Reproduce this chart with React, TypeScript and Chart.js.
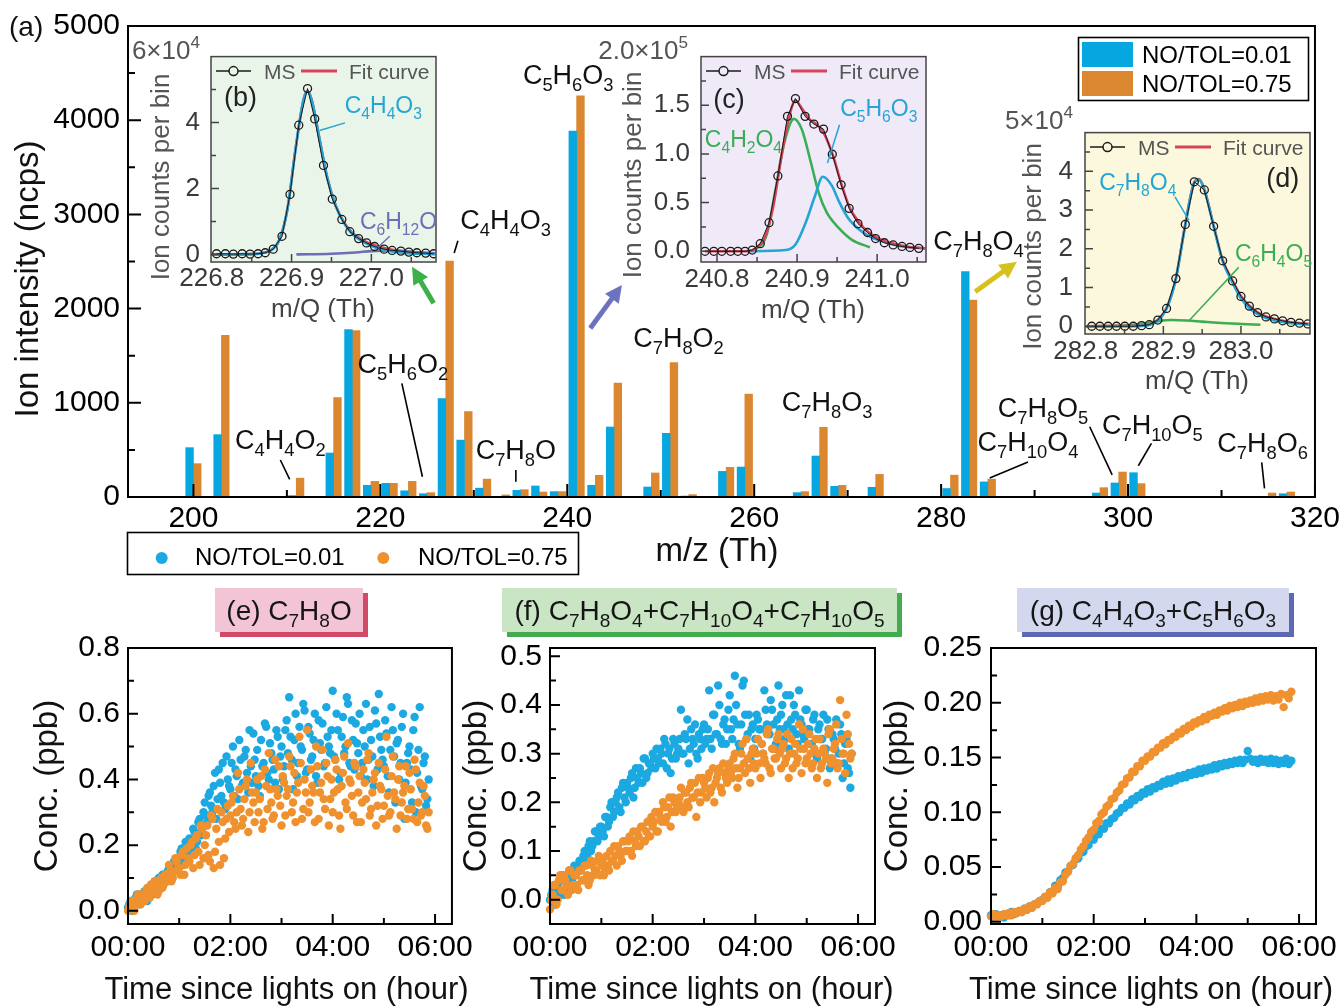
import React, { useEffect, useRef } from 'react';
import { Chart, registerables } from 'chart.js';

Chart.register(...registerables);

const FONT = "'Liberation Sans', Arial, Helvetica, sans-serif";

/* ================= (a) mass spectrum ================= */
const MZ = [200, 203, 211, 215, 217, 219, 221, 223, 225, 227, 229, 231, 233, 235, 237, 239, 241, 243, 245, 249, 251, 253, 257, 259, 265, 267, 269, 273, 281, 283, 285, 297, 299, 301, 315, 317];
const INT_LOW = [524, 662, 15, 467, 1778, 124, 145, 66, 35, 1044, 604, 94, 0, 71, 117, 57, 3885, 124, 743, 106, 676, 10, 272, 318, 46, 435, 113, 103, 90, 2392, 160, 42, 149, 258, 0, 35];
const INT_HIGH = [354, 1716, 200, 1055, 1766, 166, 145, 166, 46, 2505, 908, 190, 22, 78, 53, 57, 4260, 230, 1210, 255, 1426, 25, 315, 1093, 57, 740, 124, 240, 232, 2091, 190, 99, 265, 142, 42, 53];
const MZ_TICKS = [200, 220, 240, 260, 280, 300, 320];
const MZ_MINOR = [210, 230, 250, 270, 290, 310];
const INT_TICKS = [0, 1000, 2000, 3000, 4000, 5000];
const INT_MINOR = [500, 1500, 2500, 3500, 4500];

const PEAK_NAMES = ['C4H4O2', 'C5H6O2', 'C4H4O3', 'C7H8O', 'C5H6O3', 'C7H8O2', 'C7H8O3', 'C7H8O4', 'C7H10O4', 'C7H8O5', 'C7H10O5', 'C7H8O6'];
const PEAK_NAME_MZ = [209.3, 222.4, 233.4, 234.5, 240.1, 251.9, 267.8, 284.0, 289.3, 290.9, 302.6, 314.4];
const PEAK_NAME_INT = [615, 1420, 2950, 510, 4490, 1700, 1020, 2730, 590, 950, 775, 585];
const LEADERS: number[][] = [
  [209.3, 393, 210.3, 188],
  [222.3, 1207, 224.5, 215],
  [228.3, 2721, 227.9, 2590],
  [234.5, 287, 234.5, 162],
  [289.3, 372, 285.2, 202],
  [295.9, 746, 298.3, 234],
  [302.5, 570, 301.1, 332],
  [314.3, 368, 314.6, 92],
];
const ARROWS: [number, number, number, number, string][] = [
  [225.7, 2056, 223.39, 2445, '#3DB04A'],
  [242.46, 1791, 245.85, 2251, '#6B73C1'],
  [283.64, 2179, 288.1, 2498, '#D6C21C'],
];

/* ================= (b) inset ================= */
const B_MS_X = [226.806, 226.817, 226.827, 226.838, 226.848, 226.858, 226.867, 226.877, 226.888, 226.898, 226.909, 226.92, 226.929, 226.94, 226.951, 226.963, 226.973, 226.984, 226.994, 227.004, 227.016, 227.026, 227.037, 227.047, 227.057, 227.068, 227.078];
const B_MS_Y = [0.02, 0.02, 0.01, 0.02, 0.01, 0.02, 0.05, 0.16, 0.55, 1.82, 3.92, 5.03, 4.11, 2.7, 1.68, 1.06, 0.69, 0.48, 0.35, 0.24, 0.16, 0.12, 0.1, 0.07, 0.05, 0.04, 0.02];
const B_FIT_X = [226.8, 226.85, 226.865, 226.875, 226.885, 226.895, 226.905, 226.915, 226.92, 226.925, 226.935, 226.945, 226.955, 226.965, 226.975, 226.99, 227.005, 227.02, 227.035, 227.05, 227.065, 227.08];
const B_FIT_Y = [0.0, 0.01, 0.05, 0.14, 0.45, 1.4, 3.2, 4.7, 4.95, 4.7, 3.5, 2.3, 1.5, 1.0, 0.68, 0.42, 0.27, 0.17, 0.11, 0.07, 0.05, 0.03];
const B_C4H4O3_Y = [0.0, 0.01, 0.05, 0.14, 0.45, 1.4, 3.2, 4.7, 4.95, 4.7, 3.5, 2.3, 1.49, 0.98, 0.65, 0.38, 0.21, 0.11, 0.06, 0.03, 0.02, 0.01];
const B_C6H12O_X = [226.906, 226.95, 226.98, 227.0, 227.02, 227.04, 227.06, 227.08];
const B_C6H12O_Y = [0.0, 0.02, 0.06, 0.1, 0.12, 0.1, 0.06, 0.02];

/* ================= (c) inset ================= */
const C_MS_X = [240.785, 240.796, 240.806, 240.817, 240.826, 240.835, 240.844, 240.854, 240.865, 240.876, 240.888, 240.898, 240.91, 240.921, 240.933, 240.944, 240.955, 240.965, 240.976, 240.988, 240.998, 241.009, 241.02, 241.031, 241.041, 241.052];
const C_MS_Y = [0.0, 0.0, 0.0, 0.0, 0.0, 0.0, 0.013, 0.078, 0.294, 0.774, 1.386, 1.569, 1.386, 1.307, 1.255, 0.997, 0.683, 0.441, 0.284, 0.193, 0.131, 0.088, 0.065, 0.05, 0.04, 0.03];
const C_FIT_X = [240.785, 240.835, 240.85, 240.86, 240.87, 240.88, 240.89, 240.898, 240.905, 240.915, 240.925, 240.933, 240.945, 240.955, 240.965, 240.978, 240.99, 241.005, 241.02, 241.04, 241.06];
const C_FIT_Y = [0.0, 0.0, 0.04, 0.15, 0.45, 0.95, 1.38, 1.55, 1.48, 1.36, 1.3, 1.22, 0.98, 0.7, 0.46, 0.29, 0.19, 0.12, 0.08, 0.045, 0.03];
const C_C4H2O4_X = [240.845, 240.862, 240.873, 240.883, 240.896, 240.906, 240.917, 240.927, 240.937, 240.952, 240.968, 240.991];
const C_C4H2O4_Y = [0.0, 0.17, 0.63, 1.08, 1.36, 1.25, 0.92, 0.6, 0.4, 0.24, 0.12, 0.04];
const C_C5H6O3_X = [240.838, 240.886, 240.898, 240.911, 240.922, 240.932, 240.943, 240.953, 240.963, 240.976, 240.991, 241.007, 241.028, 241.06];
const C_C5H6O3_Y = [0.0, 0.013, 0.07, 0.3, 0.56, 0.765, 0.68, 0.5, 0.35, 0.235, 0.15, 0.1, 0.055, 0.03];

/* ================= (d) inset ================= */
const D_MS_X = [282.8077, 282.8181, 282.8289, 282.8396, 282.8503, 282.8612, 282.8719, 282.8818, 282.8929, 282.9041, 282.9161, 282.9283, 282.9399, 282.9528, 282.9648, 282.9764, 282.9893, 283.0, 283.0108, 283.0215, 283.0323, 283.0431, 283.0538, 283.0645, 283.0754, 283.0861];
const D_MS_Y = [0, 0, 0, 0, 0, 0, 0.016, 0.04, 0.16, 0.46, 1.23, 2.63, 3.73, 3.52, 2.58, 1.69, 1.17, 0.77, 0.52, 0.35, 0.24, 0.19, 0.14, 0.1, 0.08, 0.06];
const D_CURVE_X = [282.8, 282.85, 282.8719, 282.8818, 282.8929, 282.9041, 282.9161, 282.9283, 282.9399, 282.946, 282.9528, 282.9648, 282.9764, 282.9893, 283.0, 283.0108, 283.0215, 283.0323, 283.0431, 283.0538, 283.0645, 283.0754, 283.089];
const D_C7H8O4_Y = [0, 0, 0.01, 0.03, 0.14, 0.45, 1.22, 2.62, 3.7, 3.78, 3.52, 2.58, 1.68, 1.12, 0.72, 0.47, 0.31, 0.21, 0.15, 0.11, 0.08, 0.06, 0.04];
const D_FIT_Y = [0, 0.01, 0.02, 0.05, 0.17, 0.47, 1.24, 2.64, 3.72, 3.8, 3.54, 2.6, 1.71, 1.17, 0.78, 0.53, 0.36, 0.25, 0.19, 0.14, 0.1, 0.08, 0.06];
const D_C6H4O5_X = [282.8, 282.84, 282.87, 282.89, 282.91, 282.93, 282.95, 282.97, 283.0, 283.025];
const D_C6H4O5_Y = [0.0, 0.01, 0.06, 0.12, 0.16, 0.15, 0.12, 0.09, 0.06, 0.04];

/* ================= (e)(f)(g) time series ================= */
const TIME_MIN = [0, 3, 6, 9, 12, 15, 18, 21, 24, 27, 30, 33, 36, 39, 42, 45, 48, 51, 54, 57, 60, 63, 66, 69, 72, 75, 78, 81, 84, 87, 90, 93, 96, 99, 102, 105, 108, 111, 114, 117, 120, 123, 126, 129, 132, 135, 138, 141, 144, 147, 150, 153, 156, 159, 162, 165, 168, 171, 174, 177, 180, 183, 186, 189, 192, 195, 198, 201, 204, 207, 210, 213, 216, 219, 222, 225, 228, 231, 234, 237, 240, 243, 246, 249, 252, 255, 258, 261, 264, 267, 270, 273, 276, 279, 282, 285, 288, 291, 294, 297, 300, 303, 306, 309, 312, 315, 318, 321, 324, 327, 330, 333, 336, 339, 342, 345, 348, 351];
const TIME_MIN_B = [1.5, 4.5, 7.5, 10.5, 13.5, 16.5, 19.5, 22.5, 25.5, 28.5, 31.5, 34.5, 37.5, 40.5, 43.5, 46.5, 49.5, 52.5, 55.5, 58.5, 61.5, 64.5, 67.5, 70.5, 73.5, 76.5, 79.5, 82.5, 85.5, 88.5, 91.5, 94.5, 97.5, 100.5, 103.5, 106.5, 109.5, 112.5, 115.5, 118.5, 121.5, 124.5, 127.5, 130.5, 133.5, 136.5, 139.5, 142.5, 145.5, 148.5, 151.5, 154.5, 157.5, 160.5, 163.5, 166.5, 169.5, 172.5, 175.5, 178.5, 181.5, 184.5, 187.5, 190.5, 193.5, 196.5, 199.5, 202.5, 205.5, 208.5, 211.5, 214.5, 217.5, 220.5, 223.5, 226.5, 229.5, 232.5, 235.5, 238.5, 241.5, 244.5, 247.5, 250.5, 253.5, 256.5, 259.5, 262.5, 265.5, 268.5, 271.5, 274.5, 277.5, 280.5, 283.5, 286.5, 289.5, 292.5, 295.5, 298.5, 301.5, 304.5, 307.5, 310.5, 313.5, 316.5, 319.5, 322.5, 325.5, 328.5, 331.5, 334.5, 337.5, 340.5, 343.5, 346.5, 349.5, 352.5];
const TIME_TICKS = [0, 2, 4, 6];
const TIME_MINOR = [1, 3, 5];

const E_LOW = [0.01, 0.03, 0.02, 0.04, 0.03, 0.05, 0.04, 0.06, 0.05, 0.07,
  0.08, 0.06, 0.1, 0.09, 0.11, 0.1, 0.13, 0.12, 0.15, 0.14,
  0.16, 0.19, 0.15, 0.2, 0.22, 0.18, 0.24, 0.21, 0.28, 0.25,
  0.33, 0.27, 0.36, 0.3, 0.42, 0.34, 0.39, 0.45, 0.31, 0.4,
  0.37, 0.5, 0.43, 0.34, 0.46, 0.39, 0.49, 0.36, 0.44, 0.54,
  0.41, 0.38, 0.52, 0.45, 0.56, 0.4, 0.48, 0.43, 0.55, 0.37,
  0.5, 0.44, 0.58, 0.65, 0.46, 0.52, 0.41, 0.56, 0.49, 0.61,
  0.43, 0.54, 0.47, 0.6, 0.39, 0.51, 0.57, 0.45, 0.53, 0.48,
  0.67, 0.46, 0.55, 0.42, 0.59, 0.5, 0.63, 0.44, 0.52, 0.57,
  0.48, 0.41, 0.55, 0.63, 0.46, 0.52, 0.38, 0.57, 0.66, 0.49,
  0.44, 0.54, 0.36, 0.62, 0.47, 0.51, 0.4, 0.56, 0.28, 0.45,
  0.5, 0.33, 0.59, 0.42, 0.62, 0.37, 0.47, 0.34];
const E_LOW_B = [0.02, 0.0, 0.03, 0.05, 0.02, 0.04, 0.06, 0.03, 0.07, 0.05,
  0.09, 0.07, 0.08, 0.11, 0.09, 0.12, 0.11, 0.14, 0.13, 0.16,
  0.18, 0.14, 0.21, 0.17, 0.2, 0.25, 0.19, 0.27, 0.23, 0.3,
  0.29, 0.35, 0.32, 0.38, 0.28, 0.43, 0.35, 0.33, 0.47, 0.38,
  0.45, 0.35, 0.41, 0.52, 0.38, 0.47, 0.42, 0.55, 0.39, 0.46,
  0.49, 0.35, 0.44, 0.57, 0.42, 0.51, 0.46, 0.39, 0.53, 0.47,
  0.4, 0.55, 0.48, 0.53, 0.37, 0.6, 0.45, 0.5, 0.63, 0.42,
  0.56, 0.46, 0.52, 0.41, 0.58, 0.49, 0.44, 0.62, 0.5, 0.55,
  0.47, 0.6, 0.4, 0.53, 0.48, 0.65, 0.45, 0.58, 0.43, 0.51,
  0.6, 0.45, 0.5, 0.4, 0.56, 0.47, 0.61, 0.43, 0.53, 0.46,
  0.58, 0.41, 0.49, 0.55, 0.33, 0.52, 0.45, 0.6, 0.39, 0.48,
  0.43, 0.55, 0.3, 0.49, 0.38, 0.45, 0.32, 0.4];
const E_HIGH = [0.0, 0.02, 0.01, 0.03, 0.05, 0.02, 0.04, 0.06, 0.05, 0.08,
  0.07, 0.09, 0.06, 0.1, 0.08, 0.11, 0.14, 0.09, 0.12, 0.15,
  0.13, 0.17, 0.11, 0.19, 0.15, 0.21, 0.17, 0.23, 0.14, 0.25,
  0.2, 0.26, 0.15, 0.28, 0.18, 0.31, 0.14, 0.27, 0.22, 0.32,
  0.29, 0.35, 0.25, 0.42, 0.31, 0.28, 0.38, 0.24, 0.45, 0.33,
  0.36, 0.3, 0.41, 0.27, 0.38, 0.48, 0.33, 0.29, 0.37, 0.44,
  0.26, 0.39, 0.35, 0.47, 0.3, 0.42, 0.36, 0.53, 0.28, 0.4,
  0.55, 0.33, 0.38, 0.27, 0.44, 0.36, 0.49, 0.31, 0.41, 0.34,
  0.3, 0.46, 0.37, 0.25, 0.42, 0.33, 0.51, 0.39, 0.29, 0.44,
  0.36, 0.27, 0.43, 0.34, 0.48, 0.31, 0.4, 0.26, 0.45, 0.37,
  0.32, 0.53, 0.29, 0.41, 0.36, 0.25, 0.44, 0.33, 0.38, 0.28,
  0.42, 0.31, 0.46, 0.27, 0.39, 0.3, 0.35, 0.25];
const E_HIGH_B = [0.01, 0.03, 0.0, 0.04, 0.02, 0.05, 0.03, 0.07, 0.04, 0.06,
  0.09, 0.05, 0.08, 0.07, 0.11, 0.09, 0.12, 0.1, 0.16, 0.13,
  0.11, 0.18, 0.14, 0.16, 0.2, 0.13, 0.22, 0.18, 0.26, 0.16,
  0.23, 0.17, 0.29, 0.13, 0.25, 0.21, 0.3, 0.16, 0.28, 0.24,
  0.33, 0.27, 0.3, 0.37, 0.26, 0.34, 0.4, 0.3, 0.36, 0.27,
  0.4, 0.34, 0.25, 0.43, 0.31, 0.37, 0.28, 0.46, 0.35, 0.32,
  0.41, 0.29, 0.37, 0.44, 0.33, 0.27, 0.39, 0.45, 0.31, 0.36,
  0.3, 0.43, 0.36, 0.5, 0.28, 0.39, 0.34, 0.45, 0.26, 0.4,
  0.36, 0.43, 0.29, 0.38, 0.47, 0.31, 0.4, 0.35, 0.45, 0.27,
  0.41, 0.33, 0.39, 0.46, 0.29, 0.36, 0.42, 0.32, 0.38, 0.28,
  0.43, 0.35, 0.3, 0.47, 0.34, 0.4, 0.29, 0.36, 0.44, 0.31,
  0.37, 0.28, 0.43, 0.33, 0.29, 0.38, 0.26, 0.3];
const F_LOW = [0.0, 0.02, -0.01, 0.03, 0.01, 0.04, 0.02, 0.05, 0.03, 0.06,
  0.05, 0.07, 0.06, 0.09, 0.08, 0.11, 0.1, 0.12, 0.14, 0.13,
  0.15, 0.13, 0.17, 0.16, 0.2, 0.18, 0.21, 0.19, 0.23, 0.21,
  0.24, 0.22, 0.26, 0.23, 0.25, 0.27, 0.24, 0.29, 0.26, 0.28,
  0.3, 0.27, 0.29, 0.31, 0.28, 0.32, 0.3, 0.26, 0.33, 0.29,
  0.31, 0.39, 0.3, 0.33, 0.28, 0.35, 0.32, 0.3, 0.34, 0.31,
  0.36, 0.33, 0.43, 0.31, 0.38, 0.34, 0.4, 0.32, 0.37, 0.35,
  0.42, 0.33, 0.46, 0.36, 0.31, 0.44, 0.38, 0.34, 0.29, 0.36,
  0.33, 0.37, 0.35, 0.3, 0.39, 0.34, 0.41, 0.36, 0.32, 0.44,
  0.38, 0.35, 0.42, 0.31, 0.37, 0.4, 0.34, 0.43, 0.36, 0.33,
  0.39, 0.35, 0.32, 0.38, 0.29, 0.36, 0.33, 0.3, 0.37, 0.27,
  0.34, 0.31, 0.28, 0.36, 0.25, 0.32, 0.27, 0.23];
const F_LOW_B = [0.01, -0.01, 0.03, 0.02, 0.05, 0.01, 0.04, 0.06, 0.04, 0.07,
  0.06, 0.08, 0.07, 0.1, 0.09, 0.12, 0.11, 0.14, 0.12, 0.15,
  0.14, 0.17, 0.15, 0.19, 0.17, 0.2, 0.22, 0.18, 0.24, 0.2,
  0.23, 0.25, 0.21, 0.27, 0.24, 0.26, 0.29, 0.25, 0.28, 0.27,
  0.29, 0.31, 0.28, 0.3, 0.33, 0.27, 0.31, 0.29, 0.32, 0.3,
  0.33, 0.3, 0.34, 0.37, 0.31, 0.33, 0.36, 0.29, 0.33, 0.35,
  0.32, 0.35, 0.33, 0.38, 0.34, 0.44, 0.33, 0.36, 0.32, 0.39,
  0.35, 0.37, 0.4, 0.32, 0.36, 0.45, 0.33, 0.38, 0.35, 0.31,
  0.38, 0.35, 0.32, 0.43, 0.36, 0.34, 0.39, 0.31, 0.37, 0.35,
  0.4, 0.33, 0.36, 0.42, 0.35, 0.38, 0.32, 0.37, 0.34, 0.39,
  0.35, 0.32, 0.37, 0.3, 0.35, 0.33, 0.38, 0.31, 0.35, 0.29,
  0.33, 0.37, 0.3, 0.34, 0.28, 0.33, 0.26, 0.3];
const F_HIGH = [-0.02, 0.01, 0.03, 0.0, 0.05, 0.02, 0.04, 0.01, 0.06, 0.03,
  0.05, 0.02, 0.06, 0.04, 0.07, 0.03, 0.08, 0.05, 0.06, 0.09,
  0.07, 0.05, 0.09, 0.06, 0.08, 0.11, 0.07, 0.1, 0.08, 0.12,
  0.1, 0.13, 0.09, 0.12, 0.14, 0.11, 0.15, 0.12, 0.16, 0.13,
  0.15, 0.18, 0.14, 0.17, 0.2, 0.16, 0.19, 0.15, 0.21, 0.18,
  0.2, 0.23, 0.18, 0.22, 0.19, 0.24, 0.21, 0.17, 0.25, 0.22,
  0.24, 0.21, 0.26, 0.23, 0.2, 0.25, 0.27, 0.22, 0.26, 0.24,
  0.28, 0.25, 0.3, 0.23, 0.27, 0.32, 0.26, 0.29, 0.24, 0.31,
  0.27, 0.33, 0.25, 0.3, 0.28, 0.35, 0.26, 0.31, 0.29, 0.34,
  0.27, 0.32, 0.29, 0.25, 0.33, 0.3, 0.28, 0.36, 0.26, 0.31,
  0.29, 0.34, 0.27, 0.31, 0.25, 0.33, 0.28, 0.3, 0.24, 0.35,
  0.29, 0.32, 0.27, 0.41, 0.3, 0.26, 0.34, 0.29];
const F_HIGH_B = [0.0, 0.03, -0.01, 0.04, 0.02, 0.05, 0.03, 0.06, 0.02, 0.05,
  0.03, 0.06, 0.04, 0.07, 0.05, 0.04, 0.07, 0.06, 0.08, 0.05,
  0.08, 0.06, 0.07, 0.1, 0.08, 0.09, 0.11, 0.09, 0.12, 0.1,
  0.12, 0.1, 0.14, 0.11, 0.13, 0.15, 0.12, 0.14, 0.13, 0.17,
  0.16, 0.14, 0.18, 0.16, 0.19, 0.17, 0.21, 0.18, 0.2, 0.19,
  0.21, 0.19, 0.22, 0.2, 0.23, 0.21, 0.24, 0.22, 0.2, 0.25,
  0.23, 0.25, 0.22, 0.27, 0.24, 0.26, 0.23, 0.28, 0.25, 0.27,
  0.26, 0.29, 0.27, 0.25, 0.3, 0.28, 0.33, 0.27, 0.3, 0.28,
  0.3, 0.28, 0.32, 0.29, 0.34, 0.27, 0.31, 0.29, 0.33, 0.3,
  0.31, 0.28, 0.34, 0.3, 0.27, 0.32, 0.29, 0.31, 0.35, 0.28,
  0.32, 0.3, 0.28, 0.33, 0.3, 0.27, 0.31, 0.29, 0.34, 0.28,
  0.31, 0.36, 0.28, 0.33, 0.3, 0.38, 0.32, 0.3];
const G_LOW = [0.006, 0.004, 0.007, 0.005, 0.006, 0.004, 0.007, 0.006, 0.009, 0.007,
  0.008, 0.01, 0.009, 0.012, 0.011, 0.014, 0.013, 0.016, 0.017, 0.019,
  0.02, 0.022, 0.023, 0.027, 0.028, 0.033, 0.032, 0.038, 0.04, 0.045,
  0.046, 0.051, 0.052, 0.057, 0.058, 0.063, 0.064, 0.069, 0.07, 0.075,
  0.075, 0.08, 0.08, 0.085, 0.085, 0.09, 0.09, 0.094, 0.095, 0.099,
  0.1, 0.104, 0.104, 0.108, 0.107, 0.112, 0.111, 0.115, 0.114, 0.118,
  0.117, 0.121, 0.119, 0.123, 0.122, 0.125, 0.124, 0.128, 0.126, 0.13,
  0.127, 0.131, 0.129, 0.133, 0.131, 0.134, 0.132, 0.136, 0.134, 0.137,
  0.135, 0.139, 0.136, 0.14, 0.138, 0.141, 0.139, 0.143, 0.14, 0.144,
  0.142, 0.145, 0.143, 0.146, 0.144, 0.147, 0.145, 0.148, 0.145, 0.148,
  0.156, 0.149, 0.146, 0.148, 0.145, 0.149, 0.146, 0.148, 0.145, 0.149,
  0.145, 0.148, 0.144, 0.147, 0.145, 0.149, 0.144, 0.147];
const G_HIGH = [0.005, 0.007, 0.004, 0.006, 0.005, 0.007, 0.006, 0.008, 0.006, 0.009,
  0.008, 0.01, 0.009, 0.012, 0.011, 0.014, 0.013, 0.016, 0.016, 0.019,
  0.019, 0.023, 0.022, 0.027, 0.026, 0.031, 0.03, 0.036, 0.037, 0.043,
  0.046, 0.051, 0.053, 0.058, 0.061, 0.066, 0.069, 0.074, 0.077, 0.082,
  0.084, 0.09, 0.092, 0.098, 0.1, 0.105, 0.107, 0.112, 0.113, 0.118,
  0.12, 0.125, 0.126, 0.131, 0.132, 0.137, 0.137, 0.142, 0.142, 0.147,
  0.147, 0.151, 0.151, 0.155, 0.155, 0.159, 0.159, 0.163, 0.162, 0.166,
  0.166, 0.169, 0.169, 0.173, 0.172, 0.176, 0.175, 0.179, 0.178, 0.182,
  0.181, 0.184, 0.183, 0.187, 0.185, 0.189, 0.188, 0.191, 0.189, 0.193,
  0.192, 0.195, 0.193, 0.197, 0.195, 0.198, 0.196, 0.2, 0.197, 0.201,
  0.199, 0.202, 0.2, 0.204, 0.201, 0.205, 0.202, 0.206, 0.203, 0.207,
  0.202, 0.206, 0.203, 0.208, 0.196, 0.207, 0.204, 0.21];

/* ================= styles ================= */
const BLUE_BAR = '#06A7E0';
const ORANGE_BAR = '#DA872F';
const BLUE_DOT = '#1CA9E1';
const ORANGE_DOT = '#F0912F';
const CYAN = '#25A5D6';
const RED = '#D8435C';
const GREEN = '#3BAE55';
const PURPLE = '#6B6FB5';
const INSET_TXT = '#3a3a3a';

type Box = { x: number; y: number; w: number; h: number };
type Area = { l: number; t: number; r: number; b: number };
type AxisSpec = { min: number; max: number; labels: number[]; fmt: (v: number) => string; size: number; color: string; pad: number };
type TickSpec = { xMajor: number[]; xMinor: number[]; yMajor: number[]; yMinor: number[]; major: number; minor: number; color: string; lw: number };

/* ================= drawing helpers ================= */
function capText(ctx: any, text: string, x: number, y: number, size: number, color: string, align: string = 'center') {
  ctx.font = `${size}px ${FONT}`;
  ctx.fillStyle = color;
  ctx.textAlign = align;
  ctx.textBaseline = 'alphabetic';
  ctx.fillText(text, x, y + size * 0.358);
}
function rotText(ctx: any, text: string, x: number, y: number, size: number, color: string) {
  ctx.save();
  ctx.translate(x, y);
  ctx.rotate(-Math.PI / 2);
  ctx.font = `${size}px ${FONT}`;
  ctx.fillStyle = color;
  ctx.textAlign = 'center';
  ctx.textBaseline = 'middle';
  ctx.fillText(text, 0, 0);
  ctx.restore();
}
function drawFormula(ctx: any, text: string, x: number, y: number, size: number, color: string) {
  const sub = size * 0.68;
  const parts: { t: string; s: boolean; w: number }[] = [];
  const re = /(\d+)|([^\d]+)/g;
  let m: any;
  while ((m = re.exec(text))) parts.push({ t: m[0], s: !!m[1], w: 0 });
  let w = 0;
  for (const p of parts) {
    ctx.font = `${p.s ? sub : size}px ${FONT}`;
    p.w = ctx.measureText(p.t).width;
    w += p.w;
  }
  let cx = x - w / 2;
  const base = y + size * 0.358;
  ctx.fillStyle = color;
  ctx.textAlign = 'left';
  ctx.textBaseline = 'alphabetic';
  for (const p of parts) {
    ctx.font = `${p.s ? sub : size}px ${FONT}`;
    ctx.fillText(p.t, cx, p.s ? base + size * 0.26 : base);
    cx += p.w;
  }
}
function sciLabel(ctx: any, mant: string, exp: string, right: number, y: number, size: number, color: string) {
  const ss = size * 0.66;
  ctx.font = `${size}px ${FONT}`;
  const wm = ctx.measureText(mant).width;
  ctx.font = `${ss}px ${FONT}`;
  const we = ctx.measureText(exp).width;
  const x0 = right - wm - we;
  const base = y + size * 0.358;
  capText(ctx, mant, x0, y, size, color, 'left');
  ctx.font = `${ss}px ${FONT}`;
  ctx.fillStyle = color;
  ctx.textAlign = 'left';
  ctx.fillText(exp, x0 + wm, base - size * 0.42);
}
function seg(ctx: any, x1: number, y1: number, x2: number, y2: number) {
  ctx.beginPath();
  ctx.moveTo(x1, y1);
  ctx.lineTo(x2, y2);
  ctx.stroke();
}
function arrow(ctx: any, x1: number, y1: number, x2: number, y2: number, color: string) {
  const ang = Math.atan2(y2 - y1, x2 - x1);
  const head = 17;
  const half = 8.5;
  const bx = x2 - head * Math.cos(ang);
  const by = y2 - head * Math.sin(ang);
  ctx.strokeStyle = color;
  ctx.fillStyle = color;
  ctx.lineWidth = 5;
  ctx.lineCap = 'butt';
  seg(ctx, x1, y1, bx + Math.cos(ang), by + Math.sin(ang));
  ctx.beginPath();
  ctx.moveTo(x2, y2);
  ctx.lineTo(bx + half * Math.sin(ang), by - half * Math.cos(ang));
  ctx.lineTo(bx - half * Math.sin(ang), by + half * Math.cos(ang));
  ctx.closePath();
  ctx.fill();
}
function dot(ctx: any, x: number, y: number, r: number, color: string) {
  ctx.fillStyle = color;
  ctx.beginPath();
  ctx.arc(x, y, r, 0, Math.PI * 2);
  ctx.fill();
}
function titleBox(ctx: any, x: number, y: number, w: number, h: number, fill: string, shadow: string, text: string) {
  ctx.fillStyle = shadow;
  ctx.fillRect(x + 5, y + 5, w, h);
  ctx.fillStyle = fill;
  ctx.fillRect(x, y, w, h);
  drawFormula(ctx, text, x + w / 2, y + h / 2, 28, '#151515');
}

/* ================= generic framed chart ================= */
function scaleOpts(axis: 'x' | 'y', s: AxisSpec, fixed: number) {
  return {
    type: 'linear',
    min: s.min,
    max: s.max,
    offset: false,
    grid: { display: false, drawTicks: false, offset: false },
    border: { display: false },
    ticks: {
      font: { family: FONT, size: s.size },
      color: s.color,
      padding: s.pad,
      autoSkip: false,
      maxRotation: 0,
      minRotation: 0,
      callback: (v: any) => s.fmt(Number(v)),
    },
    afterBuildTicks: (sc: any) => {
      sc.ticks = s.labels.map((v) => ({ value: v }));
    },
    afterFit: (sc: any) => {
      if (axis === 'x') sc.height = fixed;
      else sc.width = fixed;
    },
  };
}

function frameConfig(o: {
  type: string; box: Box; area: Area; x: AxisSpec; y: AxisSpec; datasets: any[]; ticks: TickSpec; bg?: string;
  decorate?: (ctx: any, chart: any) => void;
}) {
  const { box, area } = o;
  const plugin = {
    id: 'frameDecor',
    beforeDatasetsDraw(chart: any) {
      if (!o.bg) return;
      const { ctx, chartArea: a } = chart;
      ctx.save();
      ctx.fillStyle = o.bg;
      ctx.fillRect(a.left, a.top, a.right - a.left, a.bottom - a.top);
      ctx.restore();
    },
    afterDatasetsDraw(chart: any) {
      const { ctx, chartArea: a, scales } = chart;
      const xs = scales.x;
      const ys = scales.y;
      const t = o.ticks;
      ctx.save();
      ctx.strokeStyle = t.color;
      ctx.lineWidth = t.lw;
      ctx.lineCap = 'butt';
      ctx.beginPath();
      const xt = (v: number, len: number) => {
        const p = xs.getPixelForValue(v);
        ctx.moveTo(p, a.bottom);
        ctx.lineTo(p, a.bottom - len);
      };
      const yt = (v: number, len: number) => {
        const p = ys.getPixelForValue(v);
        ctx.moveTo(a.left, p);
        ctx.lineTo(a.left + len, p);
      };
      t.xMajor.forEach((v) => xt(v, t.major));
      t.xMinor.forEach((v) => xt(v, t.minor));
      t.yMajor.forEach((v) => yt(v, t.major));
      t.yMinor.forEach((v) => yt(v, t.minor));
      ctx.stroke();
      ctx.strokeRect(a.left, a.top, a.right - a.left, a.bottom - a.top);
      ctx.restore();
      if (o.decorate) {
        ctx.save();
        o.decorate(ctx, chart);
        ctx.restore();
      }
    },
  };
  return {
    type: o.type,
    data: { datasets: o.datasets },
    options: {
      responsive: false,
      animation: false,
      devicePixelRatio: 1,
      events: [],
      layout: { autoPadding: false, padding: { left: 0, top: area.t - box.y, right: box.x + box.w - area.r, bottom: 0 } },
      plugins: { legend: { display: false }, tooltip: { enabled: false }, title: { display: false } },
      scales: {
        x: scaleOpts('x', o.x, box.y + box.h - area.b),
        y: scaleOpts('y', o.y, area.l - box.x),
      },
    },
    plugins: [plugin],
  };
}

/* ================= (a) main ================= */
const MAIN_BOX: Box = { x: 0, y: 0, w: 1344, h: 590 };
const MAIN_AREA: Area = { l: 128, t: 26, r: 1316, b: 497 };

function mainConfig() {
  const mk = (vals: number[]) => MZ.map((m, i) => ({ x: m, y: vals[i] }));
  return frameConfig({
    type: 'bar',
    box: MAIN_BOX,
    area: MAIN_AREA,
    x: { min: 193, max: 320, labels: MZ_TICKS, fmt: (v) => String(v), size: 30, color: '#000', pad: 4 },
    y: { min: 0, max: 5000, labels: INT_TICKS, fmt: (v) => String(v), size: 30, color: '#000', pad: 8 },
    ticks: { xMajor: MZ_TICKS, xMinor: MZ_MINOR, yMajor: INT_TICKS, yMinor: INT_MINOR, major: 13, minor: 7, color: '#000', lw: 2 },
    datasets: [
      { label: 'NO/TOL=0.01', data: mk(INT_LOW), backgroundColor: BLUE_BAR, borderWidth: 0, barThickness: 7.7, grouped: true },
      { label: 'NO/TOL=0.75', data: mk(INT_HIGH), backgroundColor: ORANGE_BAR, borderWidth: 0, barThickness: 7.7, grouped: true },
    ],
    decorate: (ctx, chart) => {
      const { x, y } = chart.scales;
      ctx.strokeStyle = '#000';
      ctx.lineWidth = 1.6;
      LEADERS.forEach(([m1, i1, m2, i2]) => seg(ctx, x.getPixelForValue(m1), y.getPixelForValue(i1), x.getPixelForValue(m2), y.getPixelForValue(i2)));
      PEAK_NAMES.forEach((n, i) => drawFormula(ctx, n, x.getPixelForValue(PEAK_NAME_MZ[i]), y.getPixelForValue(PEAK_NAME_INT[i]), 27, '#111'));
      ARROWS.forEach(([m1, i1, m2, i2, c]) => arrow(ctx, x.getPixelForValue(m1), y.getPixelForValue(i1), x.getPixelForValue(m2), y.getPixelForValue(i2), c));
      ctx.strokeStyle = '#000';
      ctx.lineWidth = 1.6;
      ctx.strokeRect(1078.5, 37.5, 230, 63);
      ctx.fillStyle = BLUE_BAR;
      ctx.fillRect(1082, 42, 51, 25);
      ctx.fillStyle = ORANGE_BAR;
      ctx.fillRect(1082, 71, 51, 25);
      capText(ctx, 'NO/TOL=0.01', 1142, 54.5, 24, '#000', 'left');
      capText(ctx, 'NO/TOL=0.75', 1142, 83.5, 24, '#000', 'left');
      capText(ctx, '(a)', 9, 26, 28, '#111', 'left');
      rotText(ctx, 'Ion intensity (ncps)', 29, 279, 33, '#111');
      capText(ctx, 'm/z (Th)', 717, 549, 33, '#111', 'center');
      ctx.strokeStyle = '#000';
      ctx.lineWidth = 1.6;
      ctx.strokeRect(127.5, 532.5, 451, 42);
      dot(ctx, 161.7, 558, 6, BLUE_DOT);
      capText(ctx, 'NO/TOL=0.01', 195, 556.5, 24, '#000', 'left');
      dot(ctx, 383.3, 558, 6, ORANGE_DOT);
      capText(ctx, 'NO/TOL=0.75', 418, 556.5, 24, '#000', 'left');
    },
  });
}

/* ================= insets ================= */
function curve(xs: number[], ys: number[], color: string, order: number, width = 2.6) {
  return {
    data: xs.map((x, i) => ({ x, y: ys[i] })),
    showLine: true,
    borderColor: color,
    backgroundColor: color,
    borderWidth: width,
    pointRadius: 0,
    cubicInterpolationMode: 'monotone',
    fill: false,
    order,
  };
}
function msSeries(xs: number[], ys: number[]) {
  return {
    data: xs.map((x, i) => ({ x, y: ys[i] })),
    showLine: true,
    borderColor: '#1a1a1a',
    borderWidth: 1,
    pointRadius: 4,
    pointBorderWidth: 1.3,
    pointBorderColor: '#1a1a1a',
    pointBackgroundColor: 'rgba(0,0,0,0)',
    order: 0,
  };
}
function insetLegend(ctx: any, a: any, bg: string) {
  const y = a.top + 14.5;
  ctx.strokeStyle = '#1a1a1a';
  ctx.lineWidth = 1.5;
  seg(ctx, a.left + 5, y, a.left + 40, y);
  ctx.fillStyle = bg;
  ctx.beginPath();
  ctx.arc(a.left + 22.5, y, 4.5, 0, Math.PI * 2);
  ctx.fill();
  ctx.stroke();
  capText(ctx, 'MS', a.left + 53, y, 21, '#555', 'left');
  ctx.strokeStyle = RED;
  ctx.lineWidth = 3;
  seg(ctx, a.left + 90, y, a.left + 126, y);
  capText(ctx, 'Fit curve', a.left + 138, y, 21, '#555', 'left');
}

type Ann = { text: string; x: number; y: number; color: string; size: number };
type Lead = { x1: number; y1: number; x2: number; y2: number; color: string };

const B_ANN: Ann[] = [
  { text: '(b)', x: 226.836, y: 4.8, color: '#222', size: 27 },
  { text: 'C4H4O3', x: 227.015, y: 4.54, color: CYAN, size: 23 },
  { text: 'C6H12O', x: 227.034, y: 1.01, color: PURPLE, size: 23 },
];
const B_LEAD: Lead[] = [
  { x1: 226.935, y1: 3.76, x2: 226.967, y2: 3.99, color: CYAN },
  { x1: 227.023, y1: 0.55, x2: 227.008, y2: 0.21, color: PURPLE },
];
const C_ANN: Ann[] = [
  { text: '(c)', x: 240.815, y: 1.575, color: '#222', size: 27 },
  { text: 'C4H2O4', x: 240.833, y: 1.16, color: GREEN, size: 23 },
  { text: 'C5H6O3', x: 241.002, y: 1.47, color: CYAN, size: 23 },
];
const C_LEAD: Lead[] = [{ x1: 240.953, y1: 1.3, x2: 240.938, y2: 0.906, color: CYAN }];
const D_ANN: Ann[] = [
  { text: 'C7H8O4', x: 282.867, y: 3.74, color: CYAN, size: 23 },
  { text: '(d)', x: 283.054, y: 3.84, color: '#222', size: 27 },
  { text: 'C6H4O5', x: 283.042, y: 1.9, color: GREEN, size: 23 },
];
const D_LEAD: Lead[] = [
  { x1: 282.915, y1: 3.34, x2: 282.933, y2: 2.74, color: CYAN },
  { x1: 282.997, y1: 1.52, x2: 282.933, y2: 0.145, color: GREEN },
];

function insetDecor(box: Box, bg: string, ann: Ann[], lead: Lead[], sci: [string, string, number, number], yTitle: [number, number], xTitle: [number, number]) {
  return (ctx: any, chart: any) => {
    const { x, y } = chart.scales;
    const a = chart.chartArea;
    ctx.lineWidth = 1.5;
    lead.forEach((l) => {
      ctx.strokeStyle = l.color;
      seg(ctx, x.getPixelForValue(l.x1), y.getPixelForValue(l.y1), x.getPixelForValue(l.x2), y.getPixelForValue(l.y2));
    });
    ann.forEach((n) => drawFormula(ctx, n.text, x.getPixelForValue(n.x), y.getPixelForValue(n.y), n.size, n.color));
    insetLegend(ctx, a, bg);
    ctx.translate(-box.x, -box.y);
    sciLabel(ctx, sci[0], sci[1], sci[2], sci[3], 26, '#555');
    rotText(ctx, 'Ion counts per bin', yTitle[0], yTitle[1], 26, '#555');
    capText(ctx, 'm/Q (Th)', xTitle[0], xTitle[1], 26, '#444', 'center');
  };
}

const INSET_TICKS = { major: 8, minor: 5, color: '#444', lw: 1.5 };

const B_BOX: Box = { x: 120, y: 30, w: 340, h: 305 };
const B_AREA: Area = { l: 211, t: 46, r: 436, b: 262 };
function bConfig() {
  const bg = '#EAF5E9';
  return frameConfig({
    type: 'scatter', box: B_BOX, area: B_AREA, bg,
    x: { min: 226.799, max: 227.081, labels: [226.8, 226.9, 227.0], fmt: (v) => v.toFixed(1), size: 26, color: INSET_TXT, pad: 1 },
    y: { min: -0.23, max: 6.0, labels: [0, 2, 4], fmt: (v) => String(v), size: 26, color: INSET_TXT, pad: 11 },
    ticks: { xMajor: [226.9, 227.0], xMinor: [226.85, 226.95, 227.05], yMajor: [0, 2, 4], yMinor: [1, 3, 5], ...INSET_TICKS },
    datasets: [
      msSeries(B_MS_X, B_MS_Y),
      curve(B_FIT_X, B_C4H4O3_Y, CYAN, 1),
      curve(B_C6H12O_X, B_C6H12O_Y, PURPLE, 2),
      curve(B_FIT_X, B_FIT_Y, RED, 3),
    ],
    decorate: insetDecor(B_BOX, bg, B_ANN, B_LEAD, ['6×10', '4', 200, 50], [161.5, 177], [323, 308]),
  });
}

const C_BOX: Box = { x: 585, y: 30, w: 360, h: 305 };
const C_AREA: Area = { l: 701, t: 47, r: 926, b: 262 };
function cConfig() {
  const bg = '#EFE9F8';
  return frameConfig({
    type: 'scatter', box: C_BOX, area: C_AREA, bg,
    x: { min: 240.78, max: 241.061, labels: [240.8, 240.9, 241.0], fmt: (v) => v.toFixed(1), size: 26, color: INSET_TXT, pad: 2 },
    y: { min: -0.11, max: 2.0, labels: [0, 0.5, 1.0, 1.5], fmt: (v) => v.toFixed(1), size: 26, color: INSET_TXT, pad: 11 },
    ticks: { xMajor: [240.8, 240.9, 241.0], xMinor: [240.85, 240.95, 241.05], yMajor: [0, 0.5, 1.0, 1.5], yMinor: [0.25, 0.75, 1.25, 1.75], ...INSET_TICKS },
    datasets: [
      msSeries(C_MS_X, C_MS_Y),
      curve(C_FIT_X, C_FIT_Y, RED, 1),
      curve(C_C5H6O3_X, C_C5H6O3_Y, CYAN, 2),
      curve(C_C4H2O4_X, C_C4H2O4_Y, GREEN, 3),
    ],
    decorate: insetDecor(C_BOX, bg, C_ANN, C_LEAD, ['2.0×10', '5', 688, 50], [634, 175], [813, 309]),
  });
}

const D_BOX: Box = { x: 995, y: 105, w: 335, h: 300 };
const D_AREA: Area = { l: 1085, t: 119, r: 1310, b: 334 };
function dConfig() {
  const bg = '#FBF8DD';
  return frameConfig({
    type: 'scatter', box: D_BOX, area: D_AREA, bg,
    x: { min: 282.799, max: 283.089, labels: [282.8, 282.9, 283.0], fmt: (v) => v.toFixed(1), size: 26, color: INSET_TXT, pad: 2 },
    y: { min: -0.2, max: 5.0, labels: [0, 1, 2, 3, 4], fmt: (v) => String(v), size: 26, color: INSET_TXT, pad: 12 },
    ticks: { xMajor: [282.9, 283.0], xMinor: [282.85, 282.95, 283.05], yMajor: [0, 1, 2, 3, 4], yMinor: [0.5, 1.5, 2.5, 3.5, 4.5], ...INSET_TICKS },
    datasets: [
      msSeries(D_MS_X, D_MS_Y),
      curve(D_CURVE_X, D_C7H8O4_Y, CYAN, 1),
      curve(D_CURVE_X, D_FIT_Y, RED, 2),
      curve(D_C6H4O5_X, D_C6H4O5_Y, GREEN, 3),
    ],
    decorate: insetDecor(D_BOX, bg, D_ANN, D_LEAD, ['5×10', '4', 1073, 120], [1034, 246.5], [1197, 380]),
  });
}

/* ================= (e)(f)(g) ================= */
const hhmm = (h: number) => `${h < 10 ? '0' : ''}${h}:00`;
function dots(times: number[], vals: number[], color: string, order: number) {
  return {
    data: times.map((t, i) => ({ x: t / 60, y: vals[i] })),
    backgroundColor: color,
    borderWidth: 0,
    pointRadius: 4.2,
    order,
    clip: false,
  };
}
const BOTTOM_TICKS = { xMajor: TIME_TICKS, xMinor: TIME_MINOR, major: 10, minor: 6, color: '#000', lw: 2 };

function bottomConfig(box: Box, area: Area, yMin: number, yMax: number, yLabels: number[], yMinor: number[], yDigits: number,
  series: any[], title: string, tb: [number, number, number, number, string, string], yTitleX: number, xTitleX: number, yPad: number) {
  return frameConfig({
    type: 'scatter', box, area,
    x: { min: 0, max: 6.33, labels: TIME_TICKS, fmt: hhmm, size: 30, color: '#000', pad: 6 },
    y: { min: yMin, max: yMax, labels: yLabels, fmt: (v) => v.toFixed(yDigits), size: 30, color: '#000', pad: yPad },
    ticks: { ...BOTTOM_TICKS, yMajor: yLabels, yMinor },
    datasets: series,
    decorate: (ctx) => {
      ctx.translate(-box.x, -box.y);
      titleBox(ctx, tb[0], tb[1], tb[2], tb[3], tb[4], tb[5], title);
      rotText(ctx, 'Conc. (ppb)', yTitleX, 786, 33, '#111');
      capText(ctx, 'Time since lights on (hour)', xTitleX, 988, 31, '#111', 'center');
    },
  });
}

const E_BOX: Box = { x: 0, y: 580, w: 480, h: 427 };
const E_AREA: Area = { l: 128, t: 648, r: 453, b: 924 };
const F_BOX: Box = { x: 450, y: 580, w: 455, h: 427 };
const F_AREA: Area = { l: 550, t: 648, r: 875, b: 924 };
const G_BOX: Box = { x: 880, y: 580, w: 464, h: 427 };
const G_AREA: Area = { l: 991, t: 648, r: 1317, b: 924 };

const eConfig = () => bottomConfig(E_BOX, E_AREA, -0.04, 0.8, [0, 0.2, 0.4, 0.6, 0.8], [0.1, 0.3, 0.5, 0.7], 1,
  [dots(TIME_MIN, E_HIGH, ORANGE_DOT, 0), dots(TIME_MIN_B, E_HIGH_B, ORANGE_DOT, 1), dots(TIME_MIN, E_LOW, BLUE_DOT, 2), dots(TIME_MIN_B, E_LOW_B, BLUE_DOT, 3)],
  '(e) C7H8O', [215, 588, 148, 44, '#F2C4D6', '#D24A66'], 47.5, 286.5, 8);
const fConfig = () => bottomConfig(F_BOX, F_AREA, -0.05, 0.517, [0, 0.1, 0.2, 0.3, 0.4, 0.5], [0.05, 0.15, 0.25, 0.35, 0.45], 1,
  [dots(TIME_MIN, F_HIGH, ORANGE_DOT, 0), dots(TIME_MIN_B, F_HIGH_B, ORANGE_DOT, 1), dots(TIME_MIN, F_LOW, BLUE_DOT, 2), dots(TIME_MIN_B, F_LOW_B, BLUE_DOT, 3)],
  '(f) C7H8O4+C7H10O4+C7H10O5', [502, 588, 395, 44, '#C9E5C3', '#43AC4E'], 476.7, 711.5, 8);
const gConfig = () => bottomConfig(G_BOX, G_AREA, -0.002, 0.25, [0, 0.05, 0.1, 0.15, 0.2, 0.25], [0.025, 0.075, 0.125, 0.175, 0.225], 2,
  [dots(TIME_MIN, G_HIGH, ORANGE_DOT, 0), dots(TIME_MIN, G_LOW, BLUE_DOT, 1)],
  '(g) C4H4O3+C5H6O3', [1017, 588, 272, 44, '#D4D8EE', '#5C68B2'], 898, 1151, 9);

/* ================= components ================= */
function ChartBox({ box, config }: { box: Box; config: () => any }) {
  const ref = useRef<HTMLCanvasElement | null>(null);
  useEffect(() => {
    if (!ref.current) return;
    const chart = new Chart(ref.current, config());
    return () => chart.destroy();
  }, []);
  return (
    <canvas
      ref={ref}
      width={box.w}
      height={box.h}
      style={{ position: 'absolute', left: box.x, top: box.y, width: box.w, height: box.h }}
    />
  );
}

export default function App() {
  return (
    <div style={{ position: 'absolute', left: 0, top: 0, width: 1344, height: 1007, background: '#ffffff', overflow: 'hidden' }}>
      <ChartBox box={MAIN_BOX} config={mainConfig} />
      <ChartBox box={B_BOX} config={bConfig} />
      <ChartBox box={C_BOX} config={cConfig} />
      <ChartBox box={D_BOX} config={dConfig} />
      <ChartBox box={E_BOX} config={eConfig} />
      <ChartBox box={F_BOX} config={fConfig} />
      <ChartBox box={G_BOX} config={gConfig} />
    </div>
  );
}
